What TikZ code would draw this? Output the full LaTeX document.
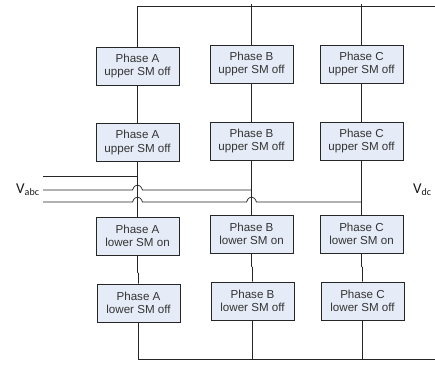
\documentclass[tikz,border=0pt]{standalone}
\usepackage{fontspec}
\setmainfont{Liberation Sans}
\newfontfamily\lblfont{Carlito}
\definecolor{boxfill}{RGB}{230,236,247}
\begin{document}
\begin{tikzpicture}[x=1pt,y=-1pt,
 smbox/.style={draw=black!85,line width=0.8pt,fill=boxfill,minimum width=83pt,minimum height=38pt,inner sep=0pt,align=center,font=\fontsize{11.6}{13.4}\selectfont,text=black!80},
 wire/.style={draw=black!85,line width=0.7pt},
 lbl/.style={font=\lblfont\fontsize{15}{16}\selectfont,text=black!90,inner sep=0pt}]
\useasboundingbox (0,0) rectangle (435,365);
\node[smbox] (a1) at (137.5,66) {Phase A\\upper SM off};
\node[smbox] (a2) at (137.5,142.5) {Phase A\\upper SM off};
\node[smbox] (a3) at (137.5,236) {Phase A\\lower SM on};
\node[smbox] (a4) at (138.5,303) {Phase A\\lower SM off};
\node[smbox] (b1) at (251.5,64) {Phase B\\upper SM off};
\node[smbox] (b2) at (251.5,141) {Phase B\\upper SM off};
\node[smbox] (b3) at (251.5,234) {Phase B\\lower SM on};
\node[smbox] (b4) at (252.5,301) {Phase B\\lower SM off};
\node[smbox] (c1) at (361.5,64) {Phase C\\upper SM off};
\node[smbox] (c2) at (361.5,141) {Phase C\\upper SM off};
\node[smbox] (c3) at (361.5,234) {Phase C\\lower SM on};
\node[smbox] (c4) at (362.5,301) {Phase C\\lower SM off};
\coordinate (topa) at (137.5,6);
\coordinate (topb) at (251.5,4);
\coordinate (topc) at (361.5,4);
\coordinate (topr) at (435,6);
\coordinate (bota) at (138.5,359);
\coordinate (botb) at (252.5,359);
\coordinate (botc) at (362.5,359);
\coordinate (botr) at (435,359);
\draw[wire] (a1.north) -- (topa) -- (topr);
\draw[wire] (b1.north) -- (topb);
\draw[wire] (c1.north) -- (topc);
\draw[wire] (a1) -- (a2);
\draw[wire] (b1) -- (b2);
\draw[wire] (c1) -- (c2);
\draw[wire] (a2) -- (a3);
\draw[wire] (b2) -- (b3);
\draw[wire] (c2) -- (c3);
\draw[wire] (a3.south) -- ++(0,17) -- ++(1,1) |- (a4.north);
\draw[wire] (b3.south) -- ++(0,13) -- ++(1,1) |- (b4.north);
\draw[wire] (c3.south) -- ++(0,13) -- ++(1,1) |- (c4.north);
\draw[wire] (a4.south) -- (bota) -- (botr);
\draw[wire] (b4) -- (botb);
\draw[wire] (c4) -- (botc);
\coordinate (v1) at (43,176.5);
\coordinate (v2) at (43,190);
\coordinate (v3) at (43,202);
\coordinate (p1) at (137.5,176.5);
\coordinate (p2) at (251.5,190);
\coordinate (p3) at (361.5,202);
\draw[wire] (v1) -- (p1);
\draw[wire] (v2) -- (132.5,190) .. controls (134,186) and (136,185) .. (137.5,185) .. controls (139,185) and (141,186) .. (142.5,190) -- (p2);
\draw[wire] (v3) -- (132.5,202) .. controls (134,198) and (136,197) .. (137.5,197) .. controls (139,197) and (141,198) .. (142.5,202)
 -- (246.5,202) .. controls (248,198) and (250,197) .. (251.5,197) .. controls (253,197) and (255,198) .. (256.5,202) -- (p3);
\node[lbl,anchor=base west] (vabc) at (16,193) {V\raisebox{-2.5pt}{\fontsize{10}{10}\selectfont abc}};
\node[lbl,anchor=base west] (vdc) at (413,193) {V\raisebox{-2.5pt}{\fontsize{10}{10}\selectfont dc}};
\end{tikzpicture}
\end{document}
